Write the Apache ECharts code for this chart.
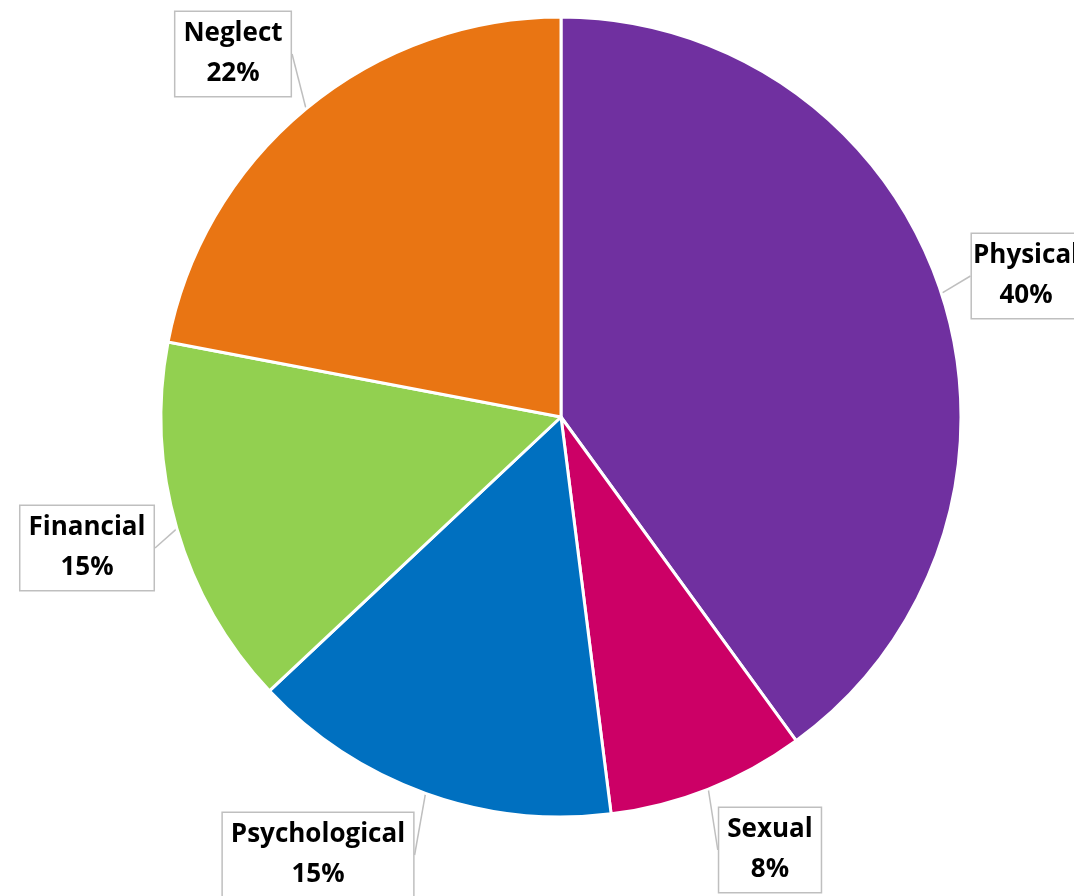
<!DOCTYPE html>
<html>
<head>
<meta charset="utf-8">
<script src="https://cdn.jsdelivr.net/npm/echarts@6/dist/echarts.min.js"></script>
<style>
  html, body { margin: 0; padding: 0; background: #fff; }
</style>
</head>
<body>
<div id="main" style="width:1074px;height:896px;"></div>
<script type="text/javascript">
// slice names and shares, clockwise from 12 o'clock
var categories = ['Physical', 'Sexual', 'Psychological', 'Financial', 'Neglect'];
var values = [40, 8, 15, 15, 22];
var colors = ['#7030A0', '#CC0066', '#0070C0', '#92D050', '#E97513'];

// where each callout box sits (centre of the box)
var labelSpots = [
  [1026, 276],
  [770, 850],
  [318, 855],
  [87, 548],
  [233, 54]
];

var myChart = echarts.init(document.getElementById('main'));

var pieData = [];
for (var i = 0; i < categories.length; i++) {
  pieData.push({
    name: categories[i],
    value: values[i],
    itemStyle: { color: colors[i] }
  });
}

var option = {
  animation: false,
  series: [{
    type: 'pie',
    center: [561, 417],
    radius: 400,
    startAngle: 90,
    clockwise: true,
    itemStyle: {
      borderColor: '#fff',
      borderWidth: 3
    },
    label: {
      show: true,
      position: 'outside',
      formatter: '{b}\n{d}%',
      fontFamily: 'Open Sans',
      fontWeight: 'bold',
      fontSize: 26,
      lineHeight: 40,
      color: '#000',
      align: 'center',
      overflow: 'none',
      backgroundColor: '#fff',
      borderColor: '#BFBFBF',
      borderWidth: 1.5,
      padding: [2, 8, 2, 8]
    },
    labelLine: {
      show: true,
      length: 10,
      length2: 0,
      lineStyle: { color: '#BFBFBF', width: 1.5 }
    },
    labelLayout: function (params) {
      var p = labelSpots[params.dataIndex];
      return {
        x: p[0],
        y: p[1],
        align: 'center',
        verticalAlign: 'middle'
      };
    },
    data: pieData
  }]
};
myChart.setOption(option);
</script>
</body>
</html>
